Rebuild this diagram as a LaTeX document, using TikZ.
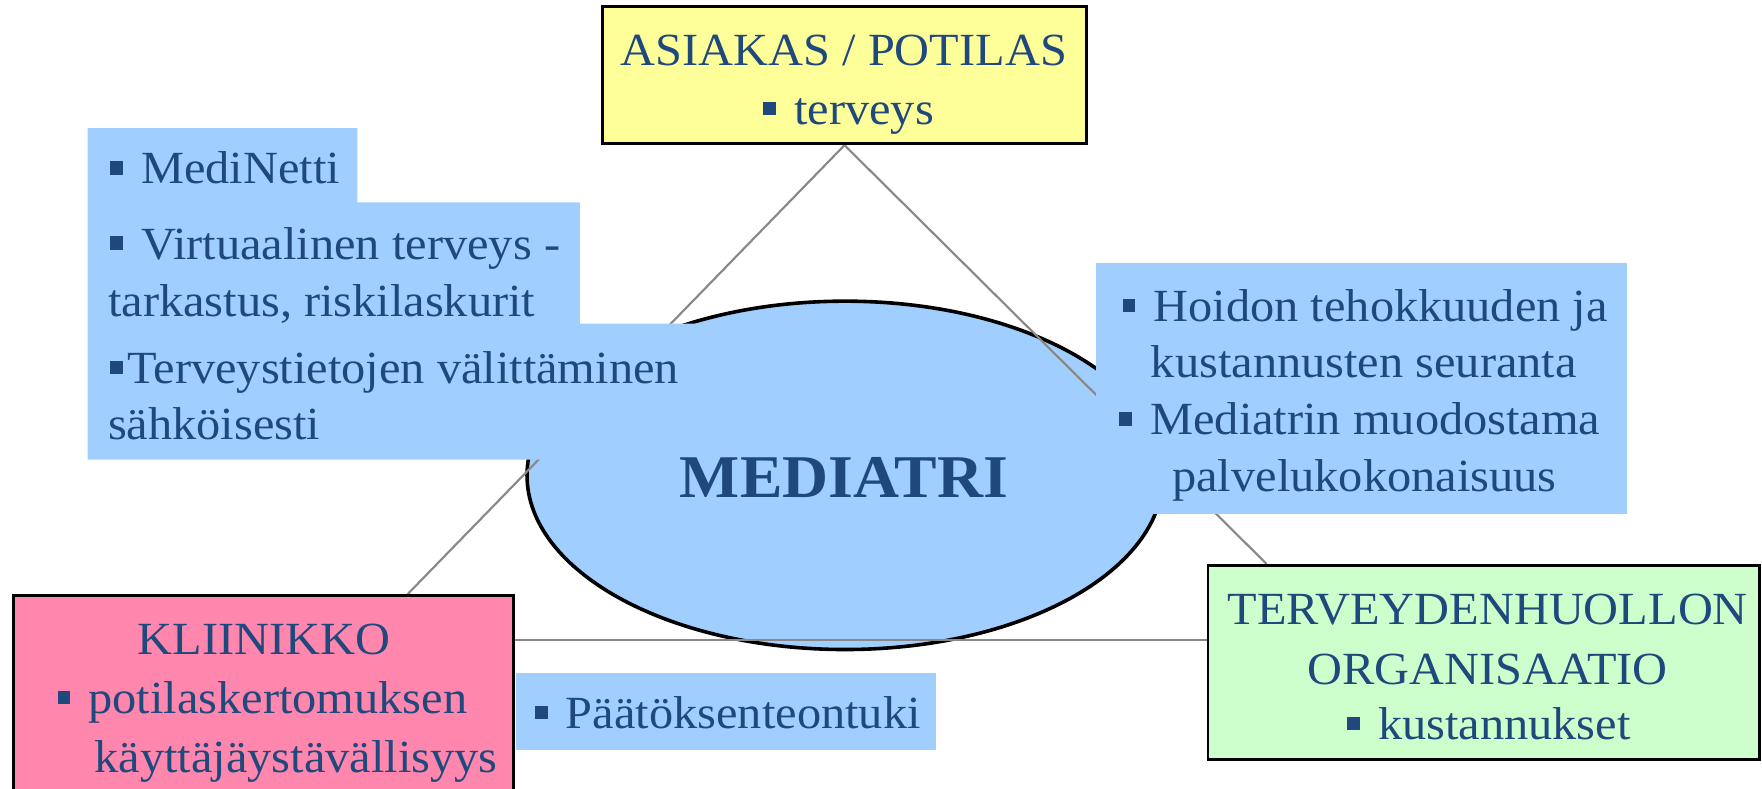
\documentclass[tikz,border=0pt]{standalone}
\usepackage{fontspec}
\setmainfont{Liberation Serif}[FakeStretch=1.05]
\usetikzlibrary{calc,shapes.geometric}
\definecolor{txtblue}{RGB}{31,73,125}
\definecolor{blockblue}{RGB}{160,206,255}
\definecolor{boxyellow}{RGB}{255,255,153}
\definecolor{boxpink}{RGB}{255,134,172}
\definecolor{boxgreen}{RGB}{204,255,204}
\definecolor{linegray}{RGB}{136,136,136}
\newcommand\bul{\rule[0.2em]{0.27em}{0.29em}}
\pgfdeclarelayer{bg}
\pgfdeclarelayer{mid}
\pgfsetlayers{bg,mid,main}
\begin{document}
\begin{tikzpicture}[x=1pt,y=-1pt,
  font=\fontsize{41}{48}\selectfont,
  txt/.style={inner sep=0pt, text=txtblue},
  boxnode/.style={draw=black, line width=2.4pt, inner sep=0pt},
  conn/.style={draw=linegray, line width=1.9pt},
  blk/.style={fill=blockblue}]
\useasboundingbox (0,0) rectangle (1568,702);
\clip (0,0) rectangle (1568,702);

% central ellipse
\begin{pgfonlayer}{bg}
\node[ellipse, draw=black, line width=3.2pt, fill=blockblue, inner sep=0pt,
      minimum width=566pt, minimum height=310pt] (mediatri) at (752,423) {};
\end{pgfonlayer}

% actor boxes
\node[boxnode, fill=boxyellow, minimum width=431pt, minimum height=122pt] (asiakas) at (751.5,67) {};
\node[boxnode, fill=boxpink, minimum width=445pt, minimum height=190pt] (klin) at (234.5,625) {};
\node[boxnode, fill=boxgreen, minimum width=491pt, minimum height=173pt] (org) at (1320.5,589.5) {};

% connectors
\begin{pgfonlayer}{mid}
\draw[conn] (asiakas.south) -- ($(klin.north west)!0.7865!(klin.north east)$);
\draw[conn] (asiakas.south) -- ($(org.north west)!0.108!(org.north east)$);
\draw[conn] ($(klin.north east)+(0,41)$) -- ($(org.north west)+(0,68)$);
\end{pgfonlayer}

% blue text blocks
\fill[blk] (78,114) -| (318,180) -| (516,288) -| (700,409) -| cycle;
\fill[blk] (975,234) rectangle (1448,457);
\fill[blk] (459,599) rectangle (833,667);

% texts
\node[txt, anchor=base] (t-as1) at (751,58.5) {ASIAKAS / POTILAS};
\node[txt, anchor=base west] (t-as2) at (679,110.5) {\bul\hspace{0.4em}terveys};

\node[txt, anchor=base] (t-med) at (751,443) {\fontsize{54}{60}\selectfont\bfseries MEDIATRI};

\node[txt, anchor=base west] (t-l1) at (98,163.5) {\bul\hspace{0.4em}MediNetti};
\node[txt, anchor=base west] (t-l2) at (98,230.5) {\bul\hspace{0.4em}Virtuaalinen terveys -};
\node[txt, anchor=base west] (t-l3) at (96,281.5) {tarkastus, riskilaskurit};
\node[txt, anchor=base west] (t-l4) at (98,341) {\bul\hspace{0.1em}Terveystietojen välittäminen};
\node[txt, anchor=base west] (t-l5) at (96,391) {sähköisesti};

\node[txt, anchor=base west] (t-r1) at (999,286) {\bul\hspace{0.4em}Hoidon tehokkuuden ja};
\node[txt, anchor=base west] (t-r2) at (1024,335.5) {kustannusten seuranta};
\node[txt, anchor=base west] (t-r3) at (996,387) {\bul\hspace{0.4em}Mediatrin muodostama};
\node[txt, anchor=base west] (t-r4) at (1043,437) {palvelukokonaisuus};

\node[txt, anchor=base] (t-o1) at (1324,556) {TERVEYDENHUOLLON};
\node[txt, anchor=base] (t-o2) at (1324,609) {ORGANISAATIO};
\node[txt, anchor=base] (t-o3) at (1325,658) {\bul\hspace{0.4em}kustannukset};

\node[txt, anchor=base] (t-k1) at (235,582.5) {KLIINIKKO};
\node[txt, anchor=base west] (t-k2) at (51,635) {\bul\hspace{0.4em}potilaskertomuksen};
\node[txt, anchor=base west] (t-k3) at (84,687) {käyttäjäystävällisyys};

\node[txt, anchor=base west] (t-p1) at (476,648) {\bul\hspace{0.4em}Päätöksenteontuki};
\end{tikzpicture}
\end{document}
